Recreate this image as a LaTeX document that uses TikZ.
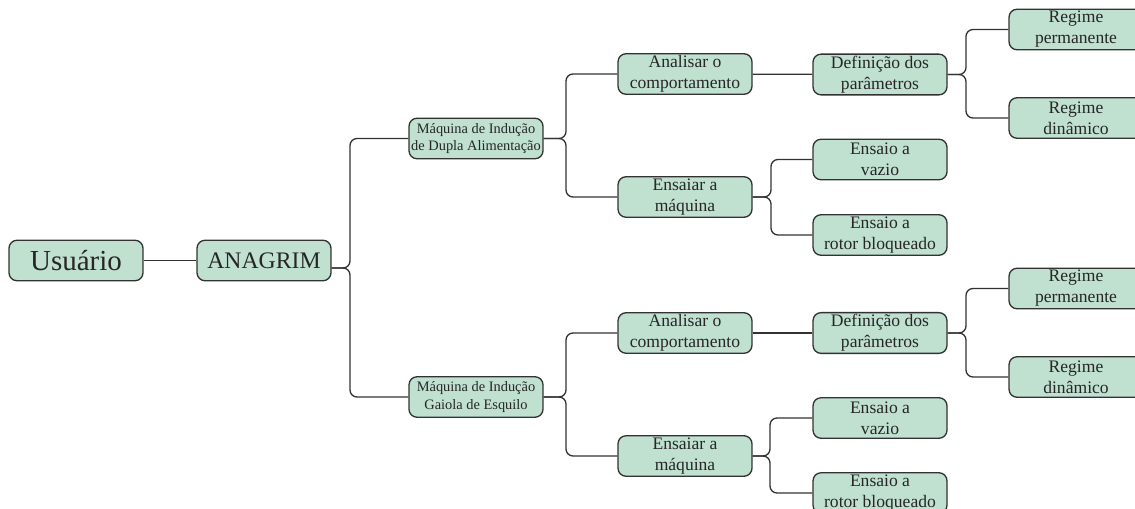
\documentclass[tikz,border=0pt]{standalone}
\usepackage{fontspec}
\setmainfont{Liberation Serif}
\usetikzlibrary{positioning}
\definecolor{boxgreen}{RGB}{192,224,208}
\definecolor{edgegray}{RGB}{50,50,50}

\begin{document}
\begin{tikzpicture}[x=0.02cm, y=-0.02cm, font=\fontsize{10}{12}\selectfont,
  box/.style={draw=edgegray, fill=boxgreen, rounded corners=0.16cm, line width=0.75pt,
    minimum width=2.68cm, minimum height=0.81cm, align=center, inner sep=1pt, text=black!85},
  link/.style={draw=edgegray, line width=0.75pt, rounded corners=0.14cm}]
\useasboundingbox (0,0) rectangle (1135,508);
\clip (0,0) rectangle (1135,508);
%
\node[box, font=\fontsize{16.5}{20}\selectfont] (usr) at (76,260.5) {Usuário};
\node[box, font=\fontsize{13.5}{16}\selectfont] (ana) at (264,260.5) {ANAGRIM};
%
\node[box, font=\fontsize{8.2}{10}\selectfont] (dfig) at (476,138.5) {Máquina de Indução\\de Dupla Alimentação};
\node[box] (comp1) at (685,74) {Analisar o\\comportamento};
\node[box] (ens1) at (685,197) {Ensaiar a\\máquina};
\node[box] (def1) at (880,74.5) {Definição dos\\parâmetros};
\node[box] (perm1) at (1076,29.5) {Regime\\permanente};
\node[box] (din1) at (1076,118) {Regime\\dinâmico};
\node[box] (vaz1) at (880,159.5) {Ensaio a\\vazio};
\node[box] (rot1) at (880,235) {Ensaio a\\rotor bloqueado};
%
\node[box, font=\fontsize{8.2}{10}\selectfont] (gaiola) at (476,397) {Máquina de Indução\\Gaiola de Esquilo};
\node[box] (comp2) at (685,333) {Analisar o\\comportamento};
\node[box] (ens2) at (685,456) {Ensaiar a\\máquina};
\node[box] (def2) at (880,333) {Definição dos\\parâmetros};
\node[box] (perm2) at (1076,288.5) {Regime\\permanente};
\node[box] (din2) at (1076,377) {Regime\\dinâmico};
\node[box] (vaz2) at (880,418) {Ensaio a\\vazio};
\node[box] (rot2) at (880,493) {Ensaio a\\rotor bloqueado};
%
\draw[link] (usr) -- (ana);
\coordinate (anaout) at ([yshift=-0.15cm]ana.east);
\coordinate (anafork) at (350,0);
\draw[link] (anaout) -| (anafork |- dfig.west) -- (dfig.west);
\draw[link] (anaout) -| (anafork |- gaiola.west) -- (gaiola.west);
%
\coordinate (dfigfork) at (566,0);
\coordinate (ens1fork) at (771,0);
\coordinate (def1fork) at (966,0);
\coordinate (gaiolafork) at (566,0);
\coordinate (ens2fork) at (770,0);
\coordinate (def2fork) at (966,0);
\foreach \p/\c in {dfig/comp1, dfig/ens1, ens1/vaz1, ens1/rot1, def1/perm1, def1/din1,
    gaiola/comp2, gaiola/ens2, ens2/vaz2, ens2/rot2, def2/perm2, def2/din2}
  \draw[link] (\p.east) -| (\p fork |- \c.west) -- (\c.west);
\draw[link] (comp1) -- (def1);
\draw[link] (comp2) -- (def2);
\end{tikzpicture}
\end{document}
